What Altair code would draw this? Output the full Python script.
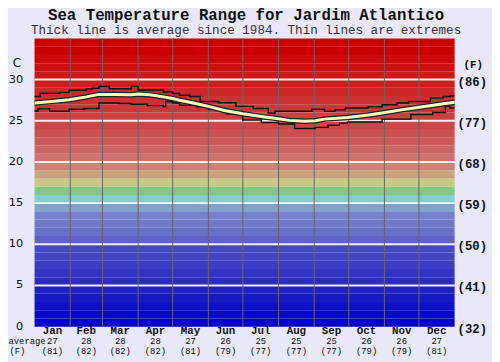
import altair as alt
import pandas as pd

W, H = 427, 293

TITLE = "Sea Temperature Range for Jardim Atlantico"
SUBTITLE = "Thick line is average since 1984. Thin lines are extremes"

months = ["Jan", "Feb", "Mar", "Apr", "May", "Jun", "Jul", "Aug", "Sep", "Oct", "Nov", "Dec"]
avg_c_label = ["27", "28", "28", "28", "27", "26", "25", "25", "25", "26", "26", "27"]
avg_f_label = ["(81)", "(82)", "(82)", "(82)", "(81)", "(79)", "(77)", "(77)", "(77)", "(79)", "(79)", "(81)"]
month_start = [0, 31, 59, 90, 120, 151, 181, 212, 243, 273, 304, 334, 365]

# colour band per degree, from 0-1 C up to 34-35 C
band_colors = [
    "#0000c8", "#0808c4", "#1010c4", "#1818c4", "#2020c4",
    "#2c2cc4", "#3434c4", "#3c3cc4", "#4444c4", "#4848c4",
    "#6060c8", "#6870c8", "#7078c8", "#7480cc", "#80a4c8",
    "#84cccc", "#84c884", "#c8c884", "#c8a47c", "#cc8474",
    "#cc7070", "#cc6464", "#cc5858", "#cc5050", "#cc4848",
    "#cc4040", "#cc3838", "#cc3030", "#cc2828", "#cc2020",
    "#cc1818", "#cc1010", "#cc0808", "#cc0000", "#cc0000",
]

c_ticks = [0, 5, 10, 15, 20, 25, 30]
c_tick_labels = ["0", "5", "10", "15", "20", "25", "30"]
f_ticks = ["(32)", "(41)", "(50)", "(59)", "(68)", "(77)", "(86)"]

max_day = [0, 5, 22, 30, 45, 50, 56, 65, 84, 90, 112, 120, 126, 135, 144, 160, 175, 190, 203, 209,
           241, 252, 261, 270, 290, 302, 315, 325, 344, 355, 361, 365]
max_c = [27.95, 28.35, 28.45, 28.7, 28.85, 28.95, 29.15, 28.9, 29.15, 28.75, 28.5, 28.3, 28.1, 27.95,
         27.35, 27.2, 26.75, 26.5, 25.95, 26.15, 26.4, 26.15, 26.35, 26.55, 26.7, 26.95, 27.15, 27.35,
         27.75, 27.95, 28.0, 28.0]

min_day = [0, 3, 13, 30, 43, 56, 73, 84, 98, 112, 114, 120, 126, 141, 151, 167, 181, 197, 212, 226,
           244, 255, 265, 272, 302, 327, 346, 357, 361, 365]
min_c = [26.2, 26.45, 26.15, 26.4, 26.5, 27.15, 27.1, 27.0, 26.85, 26.7, 27.35, 27.15, 26.9, 26.7,
         26.4, 25.85, 25.1, 24.8, 24.6, 24.05, 24.2, 24.45, 24.7, 24.85, 25.2, 25.75, 26.0, 26.75,
         26.55, 26.55]

avg_day = [0, 15, 30, 45, 56, 70, 84, 90, 100, 112, 120, 126, 140, 151, 165, 181, 200, 209, 221, 235,
           244, 252, 272, 290, 302, 320, 330, 345, 357, 365]
avg_c = [27.15, 27.35, 27.55, 27.9, 28.2, 28.2, 28.15, 28.25, 28.15, 27.9, 27.7, 27.5, 27.1, 26.75,
         26.25, 25.85, 25.45, 25.3, 25.05, 24.95, 25.0, 25.2, 25.4, 25.7, 25.95, 26.35, 26.55, 26.85,
         27.1, 27.25]

xs = alt.Scale(domain=[0, 365], nice=False, zero=False)
ys = alt.Scale(domain=[0, 35], nice=False, zero=False)

bands = pd.DataFrame({"lo": list(range(35)), "hi": [i + 1 for i in range(35)], "col": band_colors})
mdf = pd.DataFrame({
    "m": months,
    "mid": [(month_start[i] + month_start[i + 1]) / 2 for i in range(12)],
    "c": avg_c_label,
    "f": avg_f_label,
})
tick_df = pd.DataFrame({"c": c_ticks, "lab": c_tick_labels, "f": f_ticks})
grid_df = pd.DataFrame({"c": c_ticks[1:]})
bound_df = pd.DataFrame({"d": month_start[1:-1]})
max_df = pd.DataFrame({"d": max_day, "t": max_c})
min_df = pd.DataFrame({"d": min_day, "t": min_c})
avg_df = pd.DataFrame({"d": avg_day, "t": avg_c})

band_layer = alt.Chart(bands).mark_rect().encode(
    x=alt.value(0), x2=alt.value(W),
    y=alt.Y("lo:Q", scale=ys, axis=None), y2="hi:Q",
    color=alt.Color("col:N", scale=None),
)

grid_layer = alt.Chart(grid_df).mark_rule(color="white", strokeWidth=2, opacity=0.9).encode(
    y=alt.Y("c:Q", scale=ys, axis=None), x=alt.value(0), x2=alt.value(W)
)

month_rules = alt.Chart(bound_df).mark_rule(color="#666666", strokeWidth=1).encode(
    x=alt.X("d:Q", scale=xs, axis=None), y=alt.value(0), y2=alt.value(H)
)

def tline(df, **kw):
    return alt.Chart(df).mark_line(**kw).encode(
        x=alt.X("d:Q", scale=xs, axis=None),
        y=alt.Y("t:Q", scale=ys, axis=None),
    )

max_layer = tline(max_df, color="#111111", strokeWidth=1.5, interpolate="step-after")
min_layer = tline(min_df, color="#111111", strokeWidth=1.5, interpolate="step-after")
avg_outline = tline(avg_df, color="#222222", strokeWidth=5.5)
avg_layer = tline(avg_df, color="#ffffc0", strokeWidth=3)

MONO = "Liberation Mono"

month_text = alt.Chart(mdf).mark_text(font=MONO, fontWeight="bold", fontSize=11, baseline="middle",
                                      color="#111").encode(
    x=alt.X("mid:Q", scale=xs, axis=None), y=alt.value(H + 4), text="m:N")
c_text = alt.Chart(mdf).mark_text(font=MONO, fontSize=9, baseline="middle", color="#111").encode(
    x=alt.X("mid:Q", scale=xs, axis=None), y=alt.value(H + 14.5), text="c:N")
f_text = alt.Chart(mdf).mark_text(font=MONO, fontSize=9, baseline="middle", color="#111").encode(
    x=alt.X("mid:Q", scale=xs, axis=None), y=alt.value(H + 25), text="f:N")

def label(txt, x, y, **kw):
    return alt.Chart(pd.DataFrame({"t": [txt]})).mark_text(**kw).encode(
        x=alt.value(x), y=alt.value(y), text="t:N")

avg_word = label("average", -26.5, H + 14.5, font=MONO, fontSize=9, align="left", baseline="middle", color="#111")
f_word = label("(F)", -17.5, H + 25, font=MONO, fontSize=9, align="center", baseline="middle", color="#111")
c_unit = label("C", -18, 25, font="DejaVu Sans", fontSize=12, align="center", baseline="middle", color="#111")
f_unit = label("(F)", W + 19, 27, font=MONO, fontWeight="bold", fontSize=11, align="center", baseline="middle", color="#111")
title = label(TITLE, W / 2 + 1.5, -18.7, font=MONO, fontWeight="bold", fontSize=16, align="center",
              baseline="alphabetic", color="#111")
subtitle = label(SUBTITLE, W / 2 + 1.5, -4.3, font=MONO, fontSize=12.8, align="center",
                 baseline="alphabetic", color="#333")

left_labels = alt.Chart(tick_df).mark_text(font="DejaVu Sans", fontSize=11.5, align="right",
                                           baseline="middle", color="#111").encode(
    x=alt.value(-11.5), y=alt.Y("c:Q", scale=ys, axis=None), text="lab:N")

right_labels = alt.Chart(tick_df).mark_text(font=MONO, fontWeight="bold", fontSize=12.5, align="left",
                                            baseline="middle", dy=2, color="#111").encode(
    x=alt.value(W + 3), y=alt.Y("c:Q", scale=ys, axis=None), text="f:N")

chart = alt.layer(
    band_layer, grid_layer, month_rules, max_layer, min_layer, avg_outline, avg_layer,
    month_text, c_text, f_text, avg_word, f_word, c_unit, f_unit, title, subtitle,
    left_labels, right_labels,
).properties(
    width=W, height=H,
    autosize=alt.AutoSizeParams(type="none"),
    padding={"left": 27, "top": 28, "right": 38, "bottom": 33},
    background="#e8e8f8",
).configure_view(stroke=None)

chart.save("out.html", embed_options={"renderer": "svg", "actions": False})
